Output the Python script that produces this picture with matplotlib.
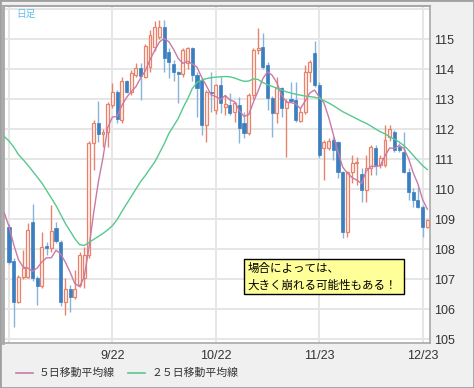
import numpy as np
import matplotlib.pyplot as plt
from matplotlib.patches import Rectangle

plt.rcParams['font.family'] = ['Liberation Sans', 'Noto Sans CJK JP', 'DejaVu Sans']

# x axis labels (trading-day index)
date_pos = [0, 22, 44, 66, 88]
date_labels = ['', '9/22', '10/22', '11/23', '12/23']

# daily candles (USD/JPY)
opens = [108.74, 107.61, 106.24, 107.08, 107.08, 108.89, 107.02, 106.78, 108.10, 108.02,
         108.69, 108.24, 106.22, 106.67, 106.41, 106.80, 107.02, 107.80, 111.52, 112.19,
         111.82, 111.91, 112.80, 113.24, 112.30, 113.60, 113.24, 113.80, 114.04, 113.74,
         114.08, 114.74, 115.08, 115.41, 114.58, 114.16, 113.91, 113.85, 114.20, 114.69,
         113.80, 113.63, 112.13, 113.24, 112.63, 113.47, 112.74, 112.80, 112.58, 112.80,
         112.19, 111.86, 113.13, 114.63, 114.74, 114.13, 113.02, 112.52, 113.36, 112.69,
         113.00, 112.97, 112.27, 112.58, 113.91, 114.52, 113.47, 111.36, 111.36, 111.63,
         111.58, 110.58, 108.58, 110.58, 110.86, 110.49, 109.97, 110.69, 111.38, 110.80,
         110.80, 111.72, 111.89, 111.41, 111.24, 110.58, 109.91, 109.63, 109.41, 108.74]
highs = [108.85, 107.70, 107.15, 107.97, 108.86, 109.50, 107.10, 108.58, 108.25, 109.47,
         108.90, 108.30, 107.02, 106.80, 107.30, 107.89, 108.08, 111.60, 112.30, 112.93,
         112.00, 112.90, 113.52, 113.30, 113.74, 113.63, 113.97, 114.19, 114.19, 114.82,
         115.30, 115.60, 115.63, 115.63, 114.70, 114.30, 113.95, 114.69, 114.74, 114.75,
         113.90, 113.70, 113.30, 113.91, 113.50, 113.74, 113.13, 113.19, 112.91, 113.08,
         112.58, 113.19, 114.69, 115.38, 115.19, 114.24, 113.10, 113.74, 113.41, 113.00,
         113.58, 113.58, 112.69, 114.13, 114.30, 114.93, 113.58, 111.65, 111.70, 111.74,
         111.60, 110.60, 110.60, 111.13, 111.08, 110.69, 111.13, 111.47, 111.47, 111.13,
         112.13, 112.13, 111.97, 111.52, 111.91, 110.69, 110.02, 110.08, 109.47, 109.00]
lows = [107.50, 105.41, 106.20, 107.00, 107.02, 106.95, 106.13, 106.70, 107.80, 107.90,
        108.20, 106.10, 105.80, 105.91, 106.35, 106.74, 106.70, 107.70, 110.63, 111.58,
        111.41, 111.40, 112.70, 112.19, 112.20, 113.19, 113.13, 113.74, 112.97, 113.70,
        113.90, 114.60, 115.00, 113.90, 113.69, 113.60, 112.86, 113.75, 114.00, 113.60,
        112.41, 111.80, 111.58, 112.58, 112.50, 112.52, 112.47, 112.47, 112.24, 111.52,
        111.69, 111.80, 113.00, 114.50, 114.00, 112.63, 111.74, 112.19, 112.41, 111.08,
        112.90, 112.24, 112.24, 112.50, 113.58, 113.40, 111.02, 110.30, 111.30, 110.97,
        110.36, 108.36, 108.41, 110.19, 110.13, 109.58, 109.58, 110.47, 110.47, 110.69,
        110.74, 111.60, 111.24, 111.24, 110.52, 109.63, 109.41, 109.36, 108.41, 108.70]
closes = [107.58, 106.22, 107.08, 107.36, 108.63, 107.02, 106.78, 108.08, 108.05, 108.60,
          108.27, 106.22, 106.67, 106.41, 106.67, 107.80, 107.80, 111.52, 112.19, 111.82,
          111.91, 112.82, 113.24, 112.33, 113.60, 113.24, 113.86, 114.02, 113.78, 114.78,
          115.13, 115.41, 115.41, 114.36, 114.24, 113.89, 113.84, 114.63, 114.69, 113.80,
          113.36, 112.13, 113.24, 113.19, 113.47, 112.86, 112.82, 112.52, 112.86, 112.02,
          111.86, 113.13, 114.63, 114.71, 114.08, 113.02, 112.52, 113.36, 112.69, 112.89,
          112.95, 112.30, 112.58, 113.91, 114.24, 113.47, 111.13, 111.58, 111.60, 111.30,
          110.58, 108.58, 110.58, 110.86, 110.89, 109.97, 110.69, 111.41, 110.80, 111.02,
          111.63, 112.00, 111.30, 111.30, 110.58, 109.91, 109.63, 109.41, 108.74, 108.97]

# moving averages, starting one day before the first visible candle
ma5 = [109.20, 108.75, 108.15, 107.65, 107.40, 107.37, 107.26, 107.37, 107.57, 107.71,
       107.71, 107.96, 107.84, 107.56, 107.23, 106.85, 106.75, 107.07, 108.04, 109.20,
       110.23, 111.05, 112.05, 112.40, 112.42, 112.78, 113.05, 113.25, 113.41, 113.70,
       113.94, 114.31, 114.62, 114.90, 115.02, 114.91, 114.66, 114.35, 114.19, 114.26,
       114.17, 114.06, 113.72, 113.44, 113.14, 113.08, 112.98, 113.12, 112.97, 112.91,
       112.62, 112.42, 112.48, 112.90, 113.27, 113.68, 113.91, 113.79, 113.54, 113.13,
       112.90, 112.88, 112.84, 112.68, 112.93, 113.20, 113.30, 113.07, 112.87, 112.40,
       111.82, 111.24, 110.73, 110.53, 110.38, 110.30, 110.18, 110.60, 110.76, 110.75,
       110.78, 111.11, 111.37, 111.35, 111.45, 111.36, 111.02, 110.54, 110.17, 109.65,
       109.33]
ma25 = [111.75, 111.60, 111.40, 111.15, 110.98, 110.80, 110.60, 110.40, 110.20, 109.95,
        109.70, 109.45, 109.15, 108.85, 108.60, 108.35, 108.15, 108.12, 108.22, 108.32,
        108.42, 108.52, 108.64, 108.78, 108.98, 109.25, 109.50, 109.75, 110.00, 110.25,
        110.45, 110.68, 110.90, 111.20, 111.50, 111.85, 112.10, 112.35, 112.70, 113.00,
        113.35, 113.55, 113.63, 113.68, 113.71, 113.73, 113.74, 113.75, 113.74, 113.70,
        113.64, 113.59, 113.60, 113.67, 113.65, 113.55, 113.48, 113.42, 113.36, 113.30,
        113.24, 113.20, 113.16, 113.13, 113.10, 113.08, 113.06, 113.02, 112.95, 112.87,
        112.78, 112.68, 112.58, 112.50, 112.42, 112.34, 112.26, 112.19, 112.10, 112.00,
        111.91, 111.84, 111.74, 111.66, 111.57, 111.45, 111.30, 111.12, 110.95, 110.78,
        110.65]

o = np.array(opens); h = np.array(highs); l = np.array(lows); c = np.array(closes)
x = np.arange(len(o))
x_ma = np.arange(-1, len(o))
up = c >= o
dn = ~up

red = '#e8836b'
blue = '#3b7fc0'
blue_wick = '#86b4da'

fig = plt.figure(figsize=(4.74, 3.88), dpi=100, facecolor='#f0f0f0')
ax = fig.add_axes([3 / 474, 45 / 388, 427 / 474, 337 / 388], facecolor='white')

ax.vlines(x[up], l[up], h[up], color=red, lw=1, zorder=3)
ax.vlines(x[dn], l[dn], h[dn], color=blue_wick, lw=1, zorder=3)
body = np.maximum(np.abs(c - o), 0.04)
ax.bar(x[up], body[up], 0.62, np.minimum(o, c)[up], color='#fff3ef', edgecolor=red, lw=0.9, zorder=4)
ax.bar(x[dn], body[dn], 0.66, np.minimum(o, c)[dn], color=blue, edgecolor=blue, lw=0.5, zorder=4)

ax.plot(x_ma, ma5, color='#c97aa6', lw=1, zorder=5)
ax.plot(x_ma, ma25, color='#56c98e', lw=1, zorder=5)

ax.set_xlim(-1.28, 89.57)
ax.set_ylim(104.87, 116.1)
ax.set_yticks(range(105, 117))
ax.set_yticklabels([str(v) if v < 116 else '' for v in range(105, 117)])
ax.set_xticks(date_pos)
ax.set_xticklabels(date_labels)
ax.yaxis.tick_right()
ax.tick_params(axis='both', length=0, labelsize=9, colors='#333333')
ax.tick_params(axis='y', pad=3)
ax.tick_params(axis='x', pad=5)
ax.grid(True, color='#e6e6e6', lw=1.4, zorder=0)
ax.set_axisbelow(True)
for side in ['left', 'top', 'right', 'bottom']:
    ax.spines[side].set_color('#a8a8a8')
ax.spines['left'].set_linewidth(2)
ax.spines['top'].set_linewidth(1.5)
ax.spines['right'].set_linewidth(1.2)
ax.spines['bottom'].set_linewidth(1.2)

ax.text(0.030, 0.978, '日足', transform=ax.transAxes, fontsize=7, color='#5fbfec',
        va='center', ha='left', family=['Noto Sans CJK JP', 'DejaVu Sans'])

# comment box
ax.add_patch(Rectangle((0.564, 0.146), 0.375, 0.104, transform=ax.transAxes,
                       facecolor='#ffff99', edgecolor='black', lw=1, zorder=10))
ax.text(0.573, 0.222, '場合によっては、', transform=ax.transAxes, fontsize=8.3,
        va='center', ha='left', zorder=11, family=['Noto Sans CJK JP', 'DejaVu Sans'])
ax.text(0.573, 0.172, '大きく崩れる可能性もある！', transform=ax.transAxes, fontsize=8.3,
        va='center', ha='left', zorder=11, family=['Noto Sans CJK JP', 'DejaVu Sans'])

# legend along the bottom
ly = 15 / 388
fig.add_artist(plt.Line2D([16 / 474, 33 / 474], [ly, ly], color='#c97aa6', lw=1.2))
fig.text(39 / 474, ly, '５日移動平均線', fontsize=7.8, color='#333333', va='center',
         family=['Noto Sans CJK JP', 'DejaVu Sans'])
fig.add_artist(plt.Line2D([128 / 474, 145 / 474], [ly, ly], color='#56c98e', lw=1.2))
fig.text(151 / 474, ly, '２５日移動平均線', fontsize=7.8, color='#333333', va='center',
         family=['Noto Sans CJK JP', 'DejaVu Sans'])

fig.patches.append(Rectangle((0, 0), 1, 1, transform=fig.transFigure, fill=False,
                             edgecolor='#a0a0a0', lw=2))

fig.savefig('out.png', dpi=100, facecolor=fig.get_facecolor())
